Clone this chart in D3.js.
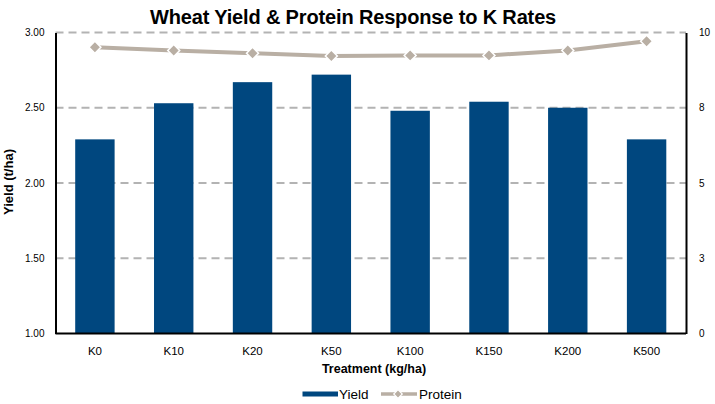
<!DOCTYPE html>
<html><head><meta charset="utf-8">
<script src="https://cdn.jsdelivr.net/npm/d3@7"></script>
<style>
html,body{margin:0;padding:0;background:#fff;}
svg{display:block;font-family:"Liberation Sans",Arial,sans-serif;}
</style></head>
<body><svg id="c" width="715" height="404"></svg>
<script>
const categories = ["K0","K10","K20","K50","K100","K150","K200","K500"];
const yieldValues = [2.29, 2.53, 2.67, 2.72, 2.48, 2.54, 2.50, 2.29];
const proteinValues = [9.51, 9.40, 9.31, 9.22, 9.24, 9.24, 9.40, 9.71];
const leftTicks = [1.0, 1.5, 2.0, 2.5, 3.0];
const rightTicks = [0, 2.5, 5, 7.5, 10];
const title = "Wheat Yield & Protein Response to K Rates";

const svg = d3.select("#c");
const L = 55.5, R = 686, T = 32.5, B = 333.5;
const barColor = "#00477f", protColor = "#b9afa4", gridColor = "#b3b3b3";

const x = d3.scaleBand().domain(categories).range([L, R]).paddingInner(0.5).paddingOuter(0.25);
const yL = d3.scaleLinear().domain([1, 3]).range([B, T]);
const yR = d3.scaleLinear().domain([0, 10]).range([B, T]);

// gridlines
svg.append("g").selectAll("line").data(leftTicks.filter(d => d > 1)).join("line")
  .attr("x1", L).attr("x2", R).attr("y1", d => yL(d)).attr("y2", d => yL(d))
  .attr("stroke", gridColor).attr("stroke-width", 2).attr("stroke-dasharray", "8,5");

// bars
svg.append("g").selectAll("rect").data(categories).join("rect")
  .attr("x", d => x(d)).attr("width", x.bandwidth())
  .attr("y", (d, i) => yL(yieldValues[i])).attr("height", (d, i) => B - yL(yieldValues[i]))
  .attr("fill", barColor);

// axes
const axL = svg.append("g").attr("transform", `translate(${L},0)`)
  .call(d3.axisLeft(yL).tickValues(leftTicks).tickFormat(d3.format(".2f")).tickSize(0).tickPadding(11));
const axR = svg.append("g").attr("transform", `translate(${R},0)`)
  .call(d3.axisRight(yR).tickValues(rightTicks).tickFormat(d => d3.format(".0f")(d)).tickSize(0).tickPadding(13));
const axB = svg.append("g").attr("transform", `translate(0,${B})`)
  .call(d3.axisBottom(x).tickSize(0).tickPadding(13));
[axL, axR, axB].forEach(a => {
  a.select(".domain").attr("stroke", "#000").attr("stroke-width", 2);
  a.selectAll("text").attr("font-family", "'Liberation Sans',Arial,sans-serif").attr("fill", "#000");
});
axL.selectAll("text").attr("font-size", 10);
axR.selectAll("text").attr("font-size", 10);
axB.selectAll("text").attr("font-size", 11.5);
axB.select(".domain").attr("d", `M${L},0H${R}`);

// protein line
const line = d3.line().x((d, i) => x(categories[i]) + x.bandwidth() / 2).y(d => yR(d));
svg.append("path").datum(proteinValues).attr("d", line)
  .attr("fill", "none").attr("stroke", protColor).attr("stroke-width", 4);
svg.append("g").selectAll("path").data(proteinValues).join("path")
  .attr("transform", (d, i) => `translate(${x(categories[i]) + x.bandwidth() / 2},${yR(d)}) rotate(45)`)
  .attr("d", d3.symbol().type(d3.symbolSquare).size(72)())
  .attr("fill", protColor).attr("stroke", "#fff").attr("stroke-width", 1.5);

// title
svg.append("text").attr("x", 353).attr("y", 24).attr("text-anchor", "middle")
  .attr("font-size", 20).attr("font-weight", "bold").attr("letter-spacing", -0.15).text(title);

// axis titles
svg.append("text").attr("transform", "translate(13,182) rotate(-90)").attr("text-anchor", "middle")
  .attr("font-size", 13).attr("font-weight", "bold").text("Yield (t/ha)");
svg.append("text").attr("x", 374).attr("y", 373).attr("text-anchor", "middle")
  .attr("font-size", 12.5).attr("font-weight", "bold").text("Treatment (kg/ha)");

// legend
const lg = svg.append("g");
lg.append("line").attr("x1", 302.5).attr("x2", 338).attr("y1", 394).attr("y2", 394)
  .attr("stroke", barColor).attr("stroke-width", 5);
lg.append("text").attr("x", 339).attr("y", 399).attr("font-size", 13.5).text("Yield");
lg.append("line").attr("x1", 381).attr("x2", 417).attr("y1", 394).attr("y2", 394)
  .attr("stroke", protColor).attr("stroke-width", 3.5);
lg.append("path").attr("transform", "translate(398,394) rotate(45)")
  .attr("d", d3.symbol().type(d3.symbolSquare).size(36)())
  .attr("fill", protColor).attr("stroke", "#fff").attr("stroke-width", 1.2);
lg.append("text").attr("x", 419).attr("y", 399).attr("font-size", 13.5).text("Protein");
</script></body></html>
